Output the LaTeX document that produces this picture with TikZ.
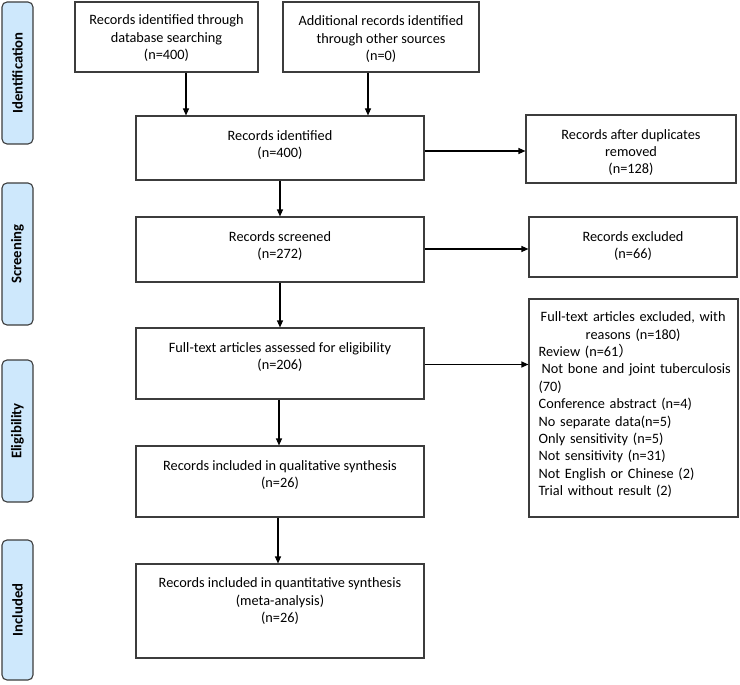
\documentclass[tikz,border=0pt]{standalone}
\usepackage{fontspec}
\setmainfont{Carlito}
\newfontfamily\cjkfont{Noto Sans CJK SC}
\usetikzlibrary{arrows.meta}
\definecolor{sidefill}{RGB}{206,232,252}
\definecolor{edgecol}{RGB}{60,60,60}
\newcommand\fststrut{\rule{0pt}{12pt}}
\begin{document}
\begin{tikzpicture}[x=1pt,y=-1pt,
  box/.style={draw=edgecol, line width=1.1pt, inner sep=0pt, rectangle},
  txt/.style={align=center, inner sep=0pt, anchor=north, font=\fontsize{14.3}{17.4}\selectfont},
  side/.style={draw=edgecol, fill=sidefill, line width=1.1pt, rounded corners=5pt, inner sep=0pt,
    rotate=90, minimum height=31pt, font=\fontsize{14.7}{17}\selectfont\bfseries},
  arr/.style={-{Triangle[length=7pt,width=6pt]}, line width=1.1pt, draw=black}]
\useasboundingbox (0,0) rectangle (740,685);

% phase labels
\node[side, minimum width=142pt] (s1) at (17.5,73) {Identification};
\node[side, minimum width=142pt] (s2) at (17.5,254) {Screening};
\node[side, minimum width=142pt] (s3) at (17.5,431) {Eligibility};
\node[side, minimum width=140pt] (s4) at (17.5,610) {Included};

% boxes
\node[box, minimum width=183pt, minimum height=70pt] (A) at (166.5,37) {};
\node[txt] (At) at ([yshift=-11pt]A.north) {\fststrut Records identified through\\database searching\\(n=400)};

\node[box, minimum width=196pt, minimum height=70pt] (B) at (381,37) {};
\node[txt] (Bt) at ([yshift=-12pt]B.north) {\fststrut Additional records identified\\through other sources\\(n=0)};

\node[box, minimum width=288pt, minimum height=64pt] (C) at (280,148) {};
\node[txt] (Ct) at ([yshift=-12.5pt]C.north) {\fststrut Records identified\\(n=400)};

\node[box, minimum width=210pt, minimum height=68pt] (D) at (631,149) {};
\node[txt] (Dt) at ([yshift=-12.5pt]D.north) {\fststrut Records after duplicates\\removed\\(n=128)};

\node[box, minimum width=288pt, minimum height=65pt] (E) at (280,249.5) {};
\node[txt] (Et) at ([yshift=-12.5pt]E.north) {\fststrut Records screened\\(n=272)};

\node[box, minimum width=208pt, minimum height=60pt] (F) at (633,247) {};
\node[txt] (Ft) at ([yshift=-12.5pt]F.north) {\fststrut Records excluded\\(n=66)};

\node[box, minimum width=288pt, minimum height=71pt] (G) at (280,363.5) {};
\node[txt] (Gt) at ([yshift=-12.5pt]G.north) {\fststrut Full-text articles assessed for eligibility\\(n=206)};

\node[box, minimum width=209pt, minimum height=218pt] (H) at (633.5,408) {};
\node[txt, anchor=north west, align=left, text width=196pt] (Ht) at ([xshift=10pt,yshift=-11pt]H.north west)
  {\makebox[189pt]{\fststrut Full-text articles excluded, with}\\
   \makebox[189pt]{reasons (n=180)}\\
   Review (n=61{\cjkfont ）}\\
   \hspace*{3pt}Not bone and joint tuberculosis\\
   (70)\\
   Conference abstract (n=4)\\
   No separate data(n=5)\\
   Only sensitivity (n=5)\\
   Not sensitivity (n=31)\\
   Not English or Chinese (2)\\
   Trial without result (2)};

\node[box, minimum width=288pt, minimum height=71pt] (I) at (280,481.5) {};
\node[txt] (It) at ([yshift=-12.5pt]I.north) {\fststrut Records included in qualitative synthesis\\(n=26)};

\node[box, minimum width=288pt, minimum height=94pt] (J) at (280,611) {};
\node[txt] (Jt) at ([yshift=-12pt]J.north) {\fststrut Records included in quantitative synthesis\\(meta-analysis)\\(n=26)};

% connector guides
\coordinate (xa) at (186,0);
\coordinate (xb) at (368,0);
\coordinate (xc) at (280,0);
\coordinate (xd) at (279,0);
\coordinate (xe) at (278,0);
\coordinate (ycd) at (0,151);
\coordinate (yef) at (0,249);
\coordinate (ygh) at (0,364.5);

% connectors
\draw[arr] (A.south -| xa) -- (C.north -| xa);
\draw[arr] (B.south -| xb) -- (C.north -| xb);
\draw[arr] (C.east |- ycd) -- (D.west |- ycd);
\draw[arr] (C.south -| xc) -- (E.north -| xc);
\draw[arr] (E.east |- yef) -- (F.west |- yef);
\draw[arr] (E.south -| xc) -- (G.north -| xc);
\draw[arr] (G.east |- ygh) -- (H.west |- ygh);
\draw[arr] (G.south -| xd) -- (I.north -| xd);
\draw[arr] (I.south -| xe) -- (J.north -| xe);
\end{tikzpicture}
\end{document}
